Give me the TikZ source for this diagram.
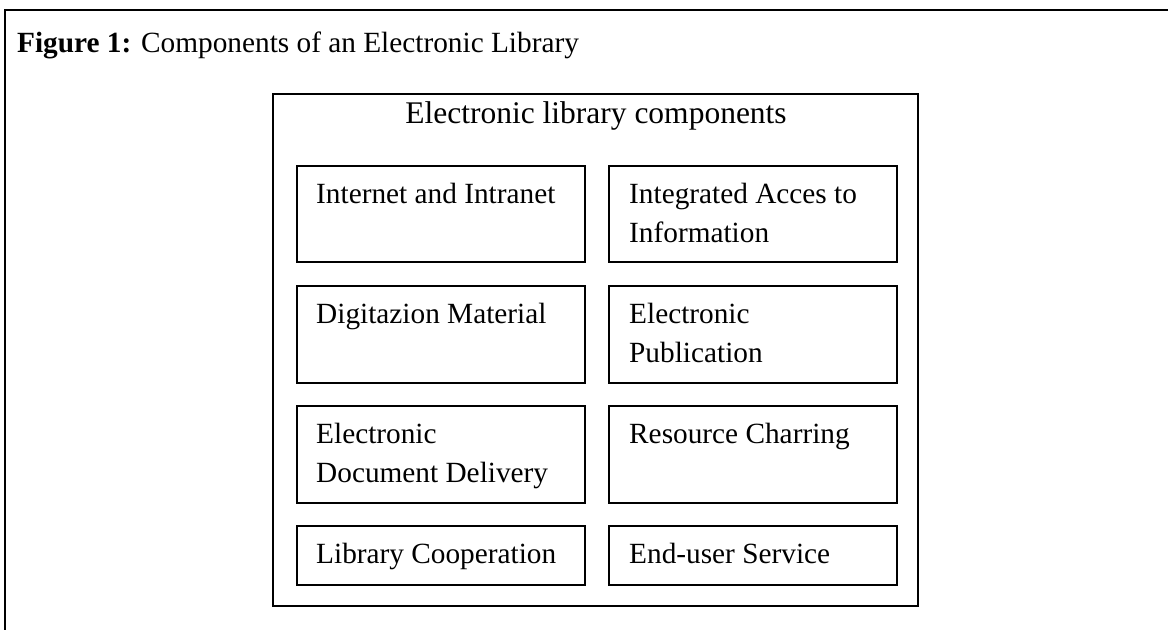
\documentclass[tikz,border=0pt]{standalone}
\usepackage{fontspec}
\setmainfont{Liberation Serif}
\usetikzlibrary{calc}
\tikzset{
  frame/.style={line width=1.6pt, black},
  compbox/.style={draw, line width=2pt, rectangle, anchor=north west, inner sep=0pt, minimum width=288pt, minimum height=#1},
  compbox/.default=96pt,
  comptext/.style={anchor=base west, inner sep=0pt, font=\fontsize{29.3}{39}\selectfont},
}
\begin{document}
\begin{tikzpicture}[x=1pt,y=-1pt]
\useasboundingbox (0,0) rectangle (1168,630);
% outer frame (top and left edges)
\coordinate (otl) at (5,10);
\coordinate (otr) at (1168,10);
\coordinate (obl) at (5,630);
\draw[frame] (otr) -- (otl) -- (obl);
\node[anchor=base west, inner sep=0pt, font=\fontsize{29.3}{35}\selectfont] (title) at (17,52) {\textbf{Figure 1:} Components of an Electronic Library};
% inner frame
\node[draw, line width=1.6pt, anchor=north west, inner sep=0pt, minimum width=645pt, minimum height=512pt] (inner) at (272,93) {};
\node[anchor=base, inner sep=0pt, font=\fontsize{31.5}{38}\selectfont] (head) at (596,123) {Electronic library components};
% boxes
\node[compbox] (b1) at (296,165) {};
\node[compbox] (b2) at (608,165) {};
\node[compbox=97pt] (b3) at (296,285) {};
\node[compbox=97pt] (b4) at (608,285) {};
\node[compbox=97pt] (b5) at (296,405) {};
\node[compbox=97pt] (b6) at (608,405) {};
\node[compbox=59pt] (b7) at (296,525) {};
\node[compbox=59pt] (b8) at (608,525) {};
% texts
\node[comptext] (t1) at ($(b1.north west)+(20,38)$) {\parbox[t]{270pt}{\raggedright Internet and Intranet}};
\node[comptext] (t2) at ($(b2.north west)+(21,38)$) {\parbox[t]{270pt}{\raggedright Integrated Acces to\\Information}};
\node[comptext] (t3) at ($(b3.north west)+(20,38)$) {\parbox[t]{270pt}{\raggedright Digitazion Material}};
\node[comptext] (t4) at ($(b4.north west)+(21,38)$) {\parbox[t]{270pt}{\raggedright Electronic\\Publication}};
\node[comptext] (t5) at ($(b5.north west)+(20,38)$) {\parbox[t]{270pt}{\raggedright Electronic\\Document Delivery}};
\node[comptext] (t6) at ($(b6.north west)+(21,38)$) {\parbox[t]{270pt}{\raggedright Resource Charring}};
\node[comptext] (t7) at ($(b7.north west)+(20,38)$) {\parbox[t]{270pt}{\raggedright Library Cooperation}};
\node[comptext] (t8) at ($(b8.north west)+(21,38)$) {\parbox[t]{270pt}{\raggedright End-user Service}};
\end{tikzpicture}
\end{document}
